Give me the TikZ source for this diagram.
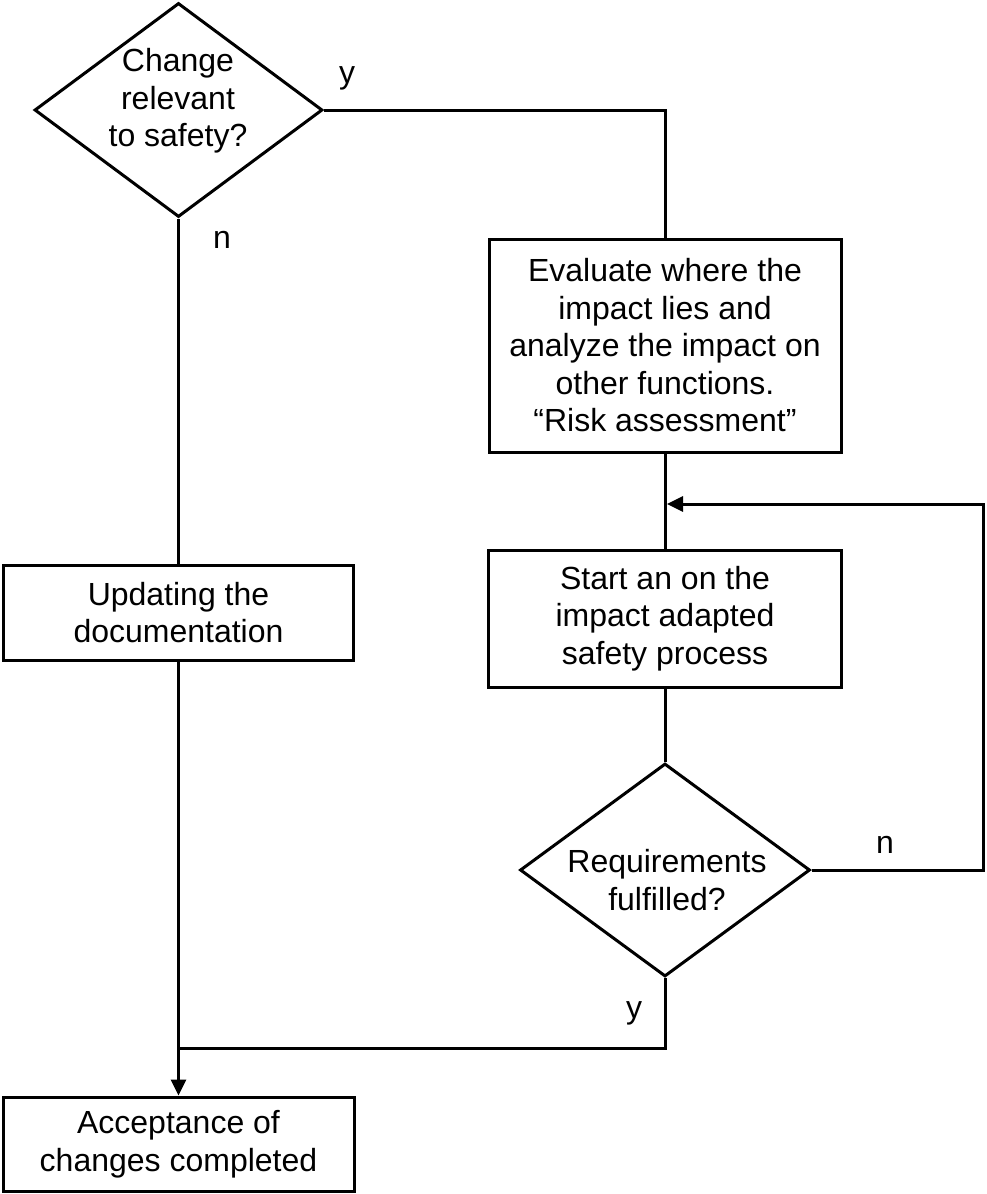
\documentclass[tikz,border=0pt]{standalone}
\usepackage{fontspec}
\setmainfont{Liberation Sans}
\usetikzlibrary{shapes.geometric,arrows.meta}
\begin{document}
\begin{tikzpicture}[x=1pt,y=-1pt,
  line width=3pt,
  txt/.style={font=\fontsize{32}{37.5}\selectfont, align=center, inner sep=0pt},
  procbox/.style={draw, rectangle, txt},
  decision/.style={draw, diamond, inner sep=0pt},
  arr/.style={-{Triangle[length=16pt,width=15pt]}}]
\useasboundingbox (0,0) rectangle (986,1194);

% decisions (shape and its question drawn separately so the text sits where wanted)
\node[decision, minimum width=288pt, minimum height=214pt] (d1) at (178.5,110) {};
\node[txt] (d1text) at (178,101) {Change\\relevant\\to safety?};
\node[decision, minimum width=290pt, minimum height=213pt] (d2) at (665,870) {};
\node[txt] (d2text) at (667,880) {Requirements\\fulfilled?};

% process boxes
\node[procbox, minimum width=350pt, minimum height=95pt] (b1) at (178.5,612.5)
  {Updating the\\documentation};
\node[procbox, minimum width=352pt, minimum height=213pt] (b2) at (665,345.5)
  {Evaluate where the\\impact lies and\\analyze the impact on\\other functions.\\“Risk assessment”};
\node[procbox, minimum width=353pt, minimum height=137pt] (b3) at (665,618.5)
  {Start an on the\\impact adapted\\safety process};
\node[procbox, minimum width=351pt, minimum height=94pt] (b4) at (178.5,1144)
  {Acceptance of\\changes completed};

% branch labels
\node[txt] (ly1) at (347,78) {y};
\node[txt] (ln1) at (222,240) {n};
\node[txt] (ln2) at (885,845) {n};
\node[txt] (ly2) at (634,1013) {y};

% helper points
\coordinate (join) at (178.5,1048);
\coordinate (turn) at (983,504);
\coordinate (back) at (667,504);

% connectors
\draw (d1.east) -| (b2.north);
\draw (b2.south) -- (b3.north);
\draw (b3.south) -- (d2.north);
\draw (d1.south) -- (b1.north);
\draw[arr] (b1.south) -- (b4.north);
\draw (d2.south) |- (join);
\draw[arr] (d2.east) -| (turn) -- (back);
\end{tikzpicture}
\end{document}
